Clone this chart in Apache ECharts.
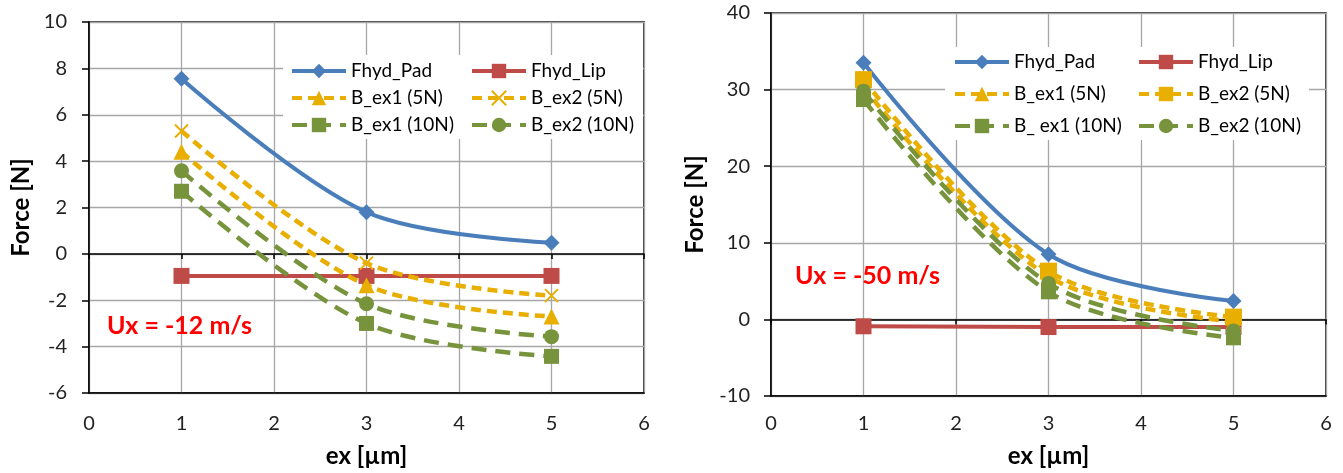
<!DOCTYPE html>
<html>
<head>
<meta charset="utf-8">
<script src="https://cdn.jsdelivr.net/npm/echarts@6/dist/echarts.min.js"></script>
<style>
  html, body { margin: 0; padding: 0; background: #fff; }
  #wrap { position: relative; width: 1343px; height: 473px; }
  #left { position: absolute; left: 0; top: 0; width: 671px; height: 473px; }
  #right { position: absolute; left: 671px; top: 0; width: 672px; height: 473px; }
</style>
</head>
<body>
<div id="wrap"><div id="left"></div><div id="right"></div></div>
<script>
// Eccentricity values (µm)
const ex = [1, 3, 5];

// Ux = -12 m/s
const padA     = [7.55, 1.8, 0.48];
const lipA     = [-0.95, -0.95, -0.95];
const bEx1_5A  = [4.4, -1.35, -2.7];
const bEx2_5A  = [5.3, -0.4, -1.8];
const bEx1_10A = [2.7, -3.0, -4.42];
const bEx2_10A = [3.58, -2.15, -3.57];

// Ux = -50 m/s
const padB     = [33.5, 8.5, 2.4];
const lipB     = [-0.9, -1.0, -1.0];
const bEx1_5B  = [30.3, 5.6, -0.3];
const bEx2_5B  = [31.3, 6.3, 0.3];
const bEx1_10B = [28.7, 3.6, -2.4];
const bEx2_10B = [29.8, 4.7, -1.5];

const xTicks = { min: 0, max: 6, interval: 1 };
const yTicksA = { min: -6, max: 10, interval: 2 };
const yTicksB = { min: -10, max: 40, interval: 10 };

const FONT = 'Lato, "Open Sans", sans-serif';
const BLUE = '#4a7ebb', RED = '#be4b48', GOLD = '#e8ae00', GREEN = '#77933c';
const CROSS = 'path://M0,0L10,10M10,0L0,10';
const SHORT_DASH = [10, 6], LONG_DASH = [15, 9];

function pts(ys) { return ex.map((x, i) => [x, ys[i]]); }

function line(name, ys, color, symbol, size, dash, width, extra) {
  return Object.assign({
    name, type: 'line', data: pts(ys), smooth: 0.33,
    symbol, symbolSize: size,
    lineStyle: { color, width, type: dash },
    itemStyle: { color, borderColor: color, borderWidth: symbol === CROSS ? 2 : 0 },
    emphasis: { disabled: true }
  }, extra || {});
}

function build(cfg) {
  return {
    animation: false,
    textStyle: { fontFamily: FONT },
    grid: Object.assign({ show: true, borderColor: '#000', borderWidth: 1.5, backgroundColor: 'transparent', containLabel: false }, cfg.grid),
    legend: {
      left: cfg.legend.left, top: cfg.legend.top, width: cfg.legend.width,
      orient: 'horizontal', backgroundColor: '#fff',
      padding: cfg.legend.padding, itemGap: cfg.legend.itemGap,
      itemWidth: 54, itemHeight: 18,
      lineStyle: { width: 4 },
      textStyle: { fontFamily: FONT, fontSize: 19, color: '#000', width: cfg.legend.textWidth, lineHeight: 20 },
      data: cfg.series.map(s => s.name),
      selectedMode: false
    },
    xAxis: [
      {
        type: 'value', position: 'bottom', min: xTicks.min, max: xTicks.max, interval: xTicks.interval,
        name: 'ex [µm]', nameLocation: 'middle', nameGap: cfg.xNameGap,
        nameTextStyle: { fontFamily: FONT, fontSize: 24, fontWeight: 'bold', color: '#000' },
        axisLine: { show: true, onZero: false, lineStyle: { color: '#000', width: 1.5 } },
        axisTick: { show: false },
        axisLabel: { fontFamily: FONT, fontSize: 20, color: '#222', margin: cfg.xLabelMargin },
        splitLine: { show: true, lineStyle: { color: '#a6a6a6', width: 1.3 } }
      },
      {
        type: 'value', position: 'bottom', min: xTicks.min, max: xTicks.max, interval: xTicks.interval,
        axisLine: { show: true, onZero: true, onZeroAxisIndex: 0, lineStyle: { color: '#000', width: 1.5 } },
        axisTick: { show: true, inside: false, length: 5, lineStyle: { color: '#000', width: 1.5 } },
        axisLabel: { show: false },
        splitLine: { show: false }
      }
    ],
    yAxis: {
      type: 'value', min: cfg.y.min, max: cfg.y.max, interval: cfg.y.interval,
      name: 'Force [N]', nameLocation: 'middle', nameGap: cfg.yNameGap,
      nameTextStyle: { fontFamily: FONT, fontSize: 24, fontWeight: 'bold', color: '#000' },
      axisLine: { show: true, onZero: false, lineStyle: { color: '#000', width: 1.5 } },
      axisTick: { show: true, length: 7, lineStyle: { color: '#000', width: 1.5 } },
      axisLabel: { fontFamily: FONT, fontSize: 20, color: '#222', margin: cfg.yLabelMargin },
      splitLine: { show: true, lineStyle: { color: '#a6a6a6', width: 1.3 } }
    },
    graphic: [{
      type: 'text', left: cfg.note.left, top: cfg.note.top, z: 10,
      style: { text: cfg.note.text, fill: '#ff0000', font: 'bold 25px ' + FONT }
    }],
    series: cfg.series
  };
}

const leftSeries = [
  line('Fhyd_Pad', padA, BLUE, 'diamond', 16, 'solid', 4),
  line('Fhyd_Lip', lipA, RED, 'rect', 16, 'solid', 4, { smooth: false }),
  line('B_ex1 (5N)', bEx1_5A, GOLD, 'triangle', 16, SHORT_DASH, 4.5),
  line('B_ex2 (5N)', bEx2_5A, GOLD, CROSS, 13, SHORT_DASH, 4.5),
  line('B_ex1 (10N)', bEx1_10A, GREEN, 'rect', 15, LONG_DASH, 4.5),
  line('B_ex2 (10N)', bEx2_10A, GREEN, 'circle', 15, LONG_DASH, 4.5)
];

const rightSeries = [
  line('Fhyd_Pad', padB, BLUE, 'diamond', 16, 'solid', 4),
  line('Fhyd_Lip', lipB, RED, 'rect', 16, 'solid', 4, { smooth: false }),
  line('B_ex1 (5N)', bEx1_5B, GOLD, 'triangle', 16, SHORT_DASH, 4.5),
  line('B_ex2 (5N)', bEx2_5B, GOLD, 'rect', 17, SHORT_DASH, 4.5),
  line('B_ ex1 (10N)', bEx1_10B, GREEN, 'rect', 15, LONG_DASH, 4.5),
  line('B_ex2 (10N)', bEx2_10B, GREEN, 'circle', 15, LONG_DASH, 4.5)
];

const leftChart = echarts.init(document.getElementById('left'), null, { renderer: 'canvas' });
leftChart.setOption(build({
  grid: { left: 89, right: 27, top: 22, bottom: 79 },
  y: yTicksA,
  xNameGap: 51, xLabelMargin: 21, yNameGap: 56, yLabelMargin: 22,
  legend: { left: 283, top: 55, width: 370, padding: [6, 0, 4, 7], itemGap: 7, textWidth: 112 },
  note: { left: 107, top: 313, text: 'Ux = -12 m/s' },
  series: leftSeries
}));

const rightChart = echarts.init(document.getElementById('right'), null, { renderer: 'canvas' });
rightChart.setOption(build({
  grid: { left: 100, right: 17, top: 13, bottom: 76 },
  y: yTicksB,
  xNameGap: 48, xLabelMargin: 18, yNameGap: 64, yLabelMargin: 21,
  legend: { left: 274, top: 47, width: 370, padding: [5, 0, 4, 8], itemGap: 12, textWidth: 111 },
  note: { left: 124, top: 263, text: 'Ux = -50 m/s' },
  series: rightSeries
}));
</script>
</body>
</html>
